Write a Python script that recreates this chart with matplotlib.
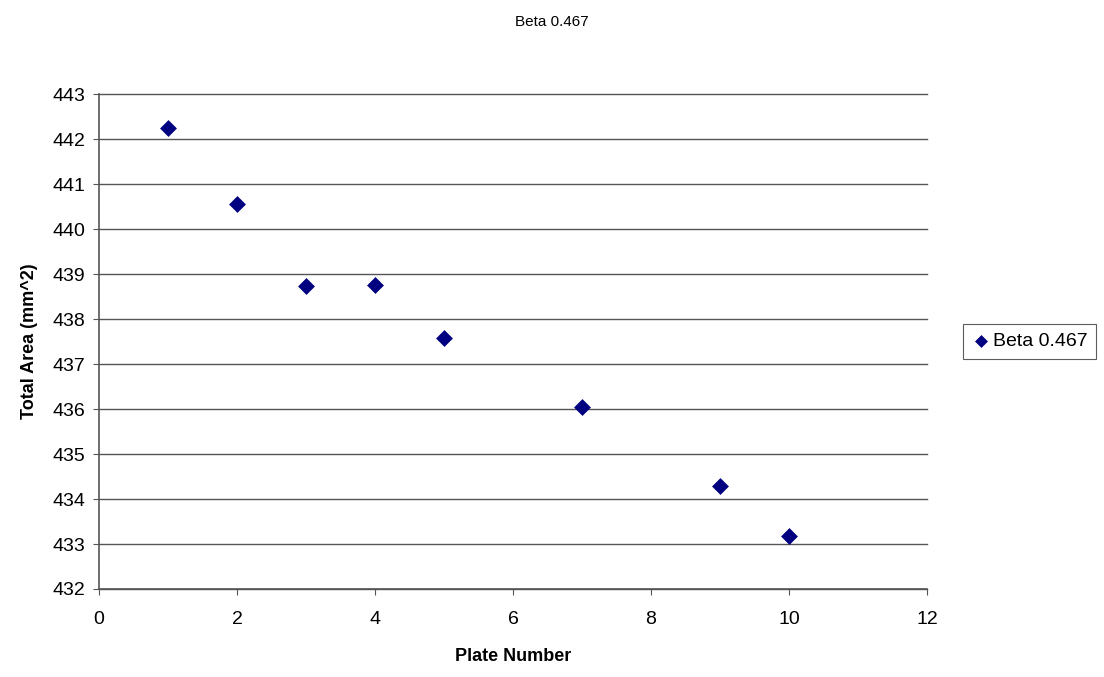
import matplotlib
matplotlib.use("Agg")
import matplotlib.pyplot as plt

plt.rcParams['font.family'] = ['Liberation Sans', 'DejaVu Sans']

# data
plate_number = [1, 2, 3, 4, 5, 7, 9, 10]
total_area = [442.24, 440.55, 438.73, 438.76, 437.57, 436.05, 434.28, 433.17]
series_name = 'Beta 0.467'

fig = plt.figure(figsize=(11.04, 6.77), dpi=100)
ax = fig.add_axes([0.0897, 0.13, 0.75, 0.731])

ax.scatter(plate_number, total_area, marker='D', s=65, color='#000080',
           zorder=3, label=series_name, edgecolors='#000080', linewidths=0.5)

ax.set_xlim(0, 12)
ax.set_ylim(432, 443)
ax.set_xticks(range(0, 13, 2))
ax.set_yticks(range(432, 444))
ax.grid(axis='y', color='#555555', linewidth=1.0)
for gl in ax.get_ygridlines():
    gl.set_clip_on(False)
ax.set_axisbelow(True)
for s in ['top', 'right']:
    ax.spines[s].set_visible(False)
for s in ['left', 'bottom']:
    ax.spines[s].set_color('#555555')
    ax.spines[s].set_linewidth(1.2)
ax.tick_params(direction='out', length=4, color='#555555', labelsize=14)
ax.tick_params(axis='x', pad=12)
ax.tick_params(axis='y', pad=6)

ax.set_xlabel('Plate Number', fontsize=13, fontweight='bold', labelpad=14)
ax.set_ylabel('Total Area (mm^2)', fontsize=13, fontweight='bold', labelpad=10)
fig.text(0.5, 0.967, series_name, ha='center', va='center', fontsize=11)

leg = ax.legend(loc='center left', bbox_to_anchor=(1.043, 0.5), frameon=True,
                fancybox=False, edgecolor='#333333', fontsize=14,
                handletextpad=0.1, borderpad=0.45, borderaxespad=0,
                handlelength=1.0, markerscale=0.75)
leg.get_frame().set_linewidth(0.8)

fig.savefig('out.png', dpi=100)
